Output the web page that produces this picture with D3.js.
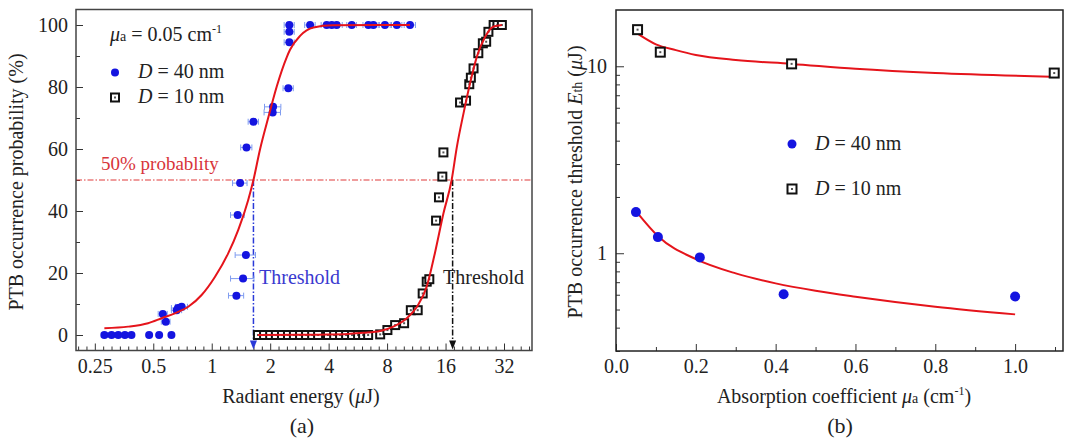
<!DOCTYPE html>
<html><head><meta charset="utf-8">
<script src="https://cdn.jsdelivr.net/npm/d3@7"></script>
<style>
html,body{margin:0;padding:0;background:#fff;}
svg text{font-family:"Liberation Serif","Times New Roman",serif;}
</style></head>
<body>
<svg id="c" width="1065" height="439"></svg>
<script>
// ---------- Panel (a) data ----------
const d40Energy = [0.28,0.305,0.33,0.357,0.386,0.476,0.536,0.62,
  0.56,0.58,0.66,0.67,0.70,
  1.34,1.36,1.40,1.45,1.50,1.51,1.64,
  2.06,2.07,2.48,2.51,2.51,2.51,
  3.21,3.91,4.15,4.40,5.26,6.41,6.80,7.80,8.98,10.5];
const d40Prob = [0,0,0,0,0,0,0,0,
  6.8,4.3,8.0,8.7,9.1,
  12.7,38.7,49.0,18.2,25.8,60.5,68.8,
  71.8,73.6,79.6,100,97.8,94.4,
  100,100,100,100,100,100,100,100,100,100];
const d40Err = [0.01,0.01,0.01,0.01,0.01,0.01,0.01,0.01,
  0.03,0.03,0.04,0.05,0.05,
  0.12,0.11,0.12,0.20,0.18,0.10,0.10,
  0.20,0.20,0.15,0.15,0.15,0.15,
  0.20,0.25,0.25,0.30,0.30,0.40,0.40,0.50,0.55,0.70];

const d10Energy = [1.73,1.86,2.0,2.14,2.30,2.47,2.65,2.85,3.06,3.29,3.53,3.97,4.27,4.58,4.92,5.28,5.67,6.02,6.39,7.37,
  8.03,8.8,9.79,10.6,11.5,12.2,12.8,13.2,14.3,14.8,15.4,15.6,19.0,20.4,21.2,21.6,22.3,23.6,24.9,25.9,26.6,28.3,29.6,31.2];
const d10Prob = [0,0,0,0,0,0,0,0,0,0,0,0,0,0,0,0,0,0,0,0.2,
  1.6,3.2,3.8,8,8,13.4,17.2,18,36.9,44.4,51.1,58.9,75,75.6,80.9,83,86,90.9,94.1,94.6,97.8,100,100,100];

const fit40Energy = [0.28,0.371,0.47,0.552,0.646,0.757,0.887,1.04,1.217,1.37,1.54,1.64,1.77,1.96,2.16,2.43,2.53,2.85,3.34,4.2,10.5];
const fit40Prob   = [2.2,2.7,3.8,5.4,7.0,9.1,12.9,18.8,26.4,33.9,43.5,50,59.7,70.4,80.1,89.5,92.0,96.5,99.2,99.9,100];
const fit10Energy = [1.73,3.0,4.0,5.0,6.04,7.37,8.62,10.1,11.4,12.8,14.1,15.6,17.2,18.3,19.8,21.4,23.2,25.6,28.3,31.2];
const fit10Prob   = [0,0.05,0.15,0.35,0.7,1.3,2.7,5.4,9.1,15.6,26.4,39.2,50,60.7,71.5,81.2,89.8,96.2,99.5,100];

const threshold40 = 1.64, threshold10 = 17.4, halfProb = 50;
const xTicksA = [0.25,0.5,1,2,4,8,16,32];
const xTickLabelsA = ["0.25","0.5","1","2","4","8","16","32"];
const yTicksA = [0,20,40,60,80,100];

// ---------- Panel (b) data ----------
const mu40 = [0.05,0.105,0.21,0.42,1.0];
const eth40 = [1.66,1.22,0.95,0.604,0.587];
const mu10 = [0.054,0.111,0.44,1.098];
const eth10 = [15.7,11.9,10.3,9.2];
const fitMu40 = [0.054,0.106,0.2,0.3,0.4,0.5,0.6,0.8,1.0];
const fitEth40 = [1.64,1.23,0.93,0.78,0.69,0.63,0.586,0.518,0.471];
const fitMu10 = [0.055,0.1,0.15,0.2,0.3,0.44,0.6,0.8,1.09];
const fitEth10 = [14.9,13.1,12.2,11.5,10.8,10.3,9.7,9.2,8.8];
const xTicksB = [0,0.2,0.4,0.6,0.8,1.0];
const xMinorB = [0.1,0.3,0.5,0.7,0.9,1.1];
const yTicksB = [1,10];
const yMinorB = [0.3,0.4,0.5,0.6,0.7,0.8,0.9,2,3,4,5,6,7,8,9];

// ---------- drawing ----------
const svg = d3.select("#c");
svg.append("rect").attr("width",1065).attr("height",439).attr("fill","#fff");
const RED = "#e5141b", BLUE = "#1414e0", EBLUE = "#7f9cf0";
const FS = 20;

function squareMark(g, x, y, s){
  g.append("rect").attr("x",x-s/2).attr("y",y-s/2).attr("width",s).attr("height",s)
    .attr("fill","#fff").attr("stroke","#111").attr("stroke-width",2);
  g.append("rect").attr("x",x-1).attr("y",y-1).attr("width",2).attr("height",2).attr("fill","#555");
}

// ===== Panel (a) =====
const A = {l:76, r:532, t:9.5, b:350.5};
const xA = d3.scaleLog().base(2).domain([0.2,44.6]).range([A.l,A.r]);
const yA = d3.scaleLinear().domain([-5,105]).range([A.b,A.t]);
const gA = svg.append("g");

const minorXA = [];
for(let k=-2;k<=52;k++){ if(k%7!==0){ const v=0.25*Math.pow(2,k/7); if(v>0.2&&v<44.6) minorXA.push(v);} }
gA.append("g").attr("transform",`translate(0,${A.b})`)
  .call(d3.axisBottom(xA).tickValues(minorXA).tickSize(-4).tickFormat(""))
  .call(g=>g.select(".domain").remove());
gA.append("g").attr("transform",`translate(0,${A.b})`)
  .call(d3.axisBottom(xA).tickValues(xTicksA).tickSize(-7).tickPadding(8)
    .tickFormat((d,i)=>xTickLabelsA[i]))
  .call(g=>g.select(".domain").remove())
  .call(g=>g.selectAll("text").attr("font-size",FS).attr("fill","#222").attr("dy","0.72em"));
gA.append("g").attr("transform",`translate(${A.l},0)`)
  .call(d3.axisLeft(yA).tickValues([10,30,50,70,90]).tickSize(-4).tickFormat(""))
  .call(g=>g.select(".domain").remove());
gA.append("g").attr("transform",`translate(${A.l},0)`)
  .call(d3.axisLeft(yA).tickValues(yTicksA).tickSize(-7).tickPadding(8))
  .call(g=>g.select(".domain").remove())
  .call(g=>g.selectAll("text").attr("font-size",FS).attr("fill","#222"));
gA.selectAll(".tick line").attr("stroke","#333");

gA.append("line").attr("x1",A.l).attr("x2",A.r).attr("y1",yA(halfProb)).attr("y2",yA(halfProb))
  .attr("stroke","#e03a3a").attr("stroke-width",1.2).attr("stroke-dasharray","6,2,1.5,2");
function thr(x,color){
  gA.append("line").attr("x1",x).attr("x2",x).attr("y1",yA(halfProb)).attr("y2",A.b-8)
    .attr("stroke",color).attr("stroke-width",1.5).attr("stroke-dasharray","6,2,1.5,2");
  gA.append("path").attr("d",`M${x-3.5},${A.b-10}L${x+3.5},${A.b-10}L${x},${A.b-1}Z`).attr("fill",color);
}
thr(xA(threshold40),"#2a3ad8");
thr(xA(threshold10),"#111");

const gS = gA.append("g");
d10Energy.forEach((e,i)=>squareMark(gS,xA(e),yA(d10Prob[i]),8));

const gE = gA.append("g").attr("stroke",EBLUE).attr("stroke-width",1);
d40Energy.forEach((e,i)=>{
  const y=yA(d40Prob[i]), x1=xA(e-d40Err[i]), x2=xA(e+d40Err[i]);
  gE.append("line").attr("x1",x1).attr("x2",x2).attr("y1",y).attr("y2",y);
  gE.append("line").attr("x1",x1).attr("x2",x1).attr("y1",y-3).attr("y2",y+3);
  gE.append("line").attr("x1",x2).attr("x2",x2).attr("y1",y-3).attr("y2",y+3);
});
gA.append("g").selectAll("circle").data(d40Energy).join("circle")
  .attr("cx",d=>xA(d)).attr("cy",(d,i)=>yA(d40Prob[i])).attr("r",4).attr("fill",BLUE);

const lineA = d3.line().x(d=>xA(d[0])).y(d=>yA(d[1])).curve(d3.curveMonotoneX);
gA.append("path").attr("d",lineA(fit40Energy.map((e,i)=>[e,fit40Prob[i]])))
  .attr("fill","none").attr("stroke",RED).attr("stroke-width",2);
gA.append("path").attr("d",lineA(fit10Energy.map((e,i)=>[e,fit10Prob[i]])))
  .attr("fill","none").attr("stroke",RED).attr("stroke-width",2);

gA.append("rect").attr("x",A.l).attr("y",A.t).attr("width",A.r-A.l).attr("height",A.b-A.t)
  .attr("fill","none").attr("stroke","#444").attr("stroke-width",1.5);

const tA = gA.append("g").attr("font-size",20).attr("fill","#222");
const leg1 = tA.append("text").attr("x",110).attr("y",41);
leg1.append("tspan").attr("font-style","italic").text("μ");
leg1.append("tspan").attr("font-size",14).text("a");
leg1.append("tspan").text(" = 0.05 cm");
leg1.append("tspan").attr("font-size",12).attr("dy",-8).text("-1");
gA.append("circle").attr("cx",115).attr("cy",72.5).attr("r",4).attr("fill",BLUE);
const l2 = tA.append("text").attr("x",138).attr("y",78);
l2.append("tspan").attr("font-style","italic").text("D");
l2.append("tspan").text(" = 40 nm");
squareMark(gA,115,97.5,8);
const l3 = tA.append("text").attr("x",138).attr("y",103);
l3.append("tspan").attr("font-style","italic").text("D");
l3.append("tspan").text(" = 10 nm");
gA.append("text").attr("x",101).attr("y",170).attr("font-size",19).attr("fill","#d8343a").text("50% probablity");
gA.append("text").attr("x",259).attr("y",284).attr("font-size",20).attr("fill","#3a3ad0").text("Threshold");
gA.append("text").attr("x",443).attr("y",284).attr("font-size",20).attr("fill","#222").text("Threshold");
const xtA = gA.append("text").attr("x",301).attr("y",403).attr("text-anchor","middle").attr("font-size",FS).attr("fill","#222");
xtA.append("tspan").text("Radiant energy (");
xtA.append("tspan").attr("font-style","italic").text("μ");
xtA.append("tspan").text("J)");
gA.append("text").attr("x",302).attr("y",433).attr("text-anchor","middle").attr("font-size",22).attr("fill","#222").text("(a)");
gA.append("text").attr("transform","translate(23,182) rotate(-90)").attr("text-anchor","middle")
  .attr("font-size",FS).attr("fill","#222").text("PTB occurrence probability (%)");

// ===== Panel (b) =====
const B = {l:616, r:1063, t:10, b:351};
const xB = d3.scaleLinear().domain([0,1.12]).range([B.l,B.r]);
const yB = d3.scaleLog().domain([0.3,20]).range([B.b,B.t]);
const gB = svg.append("g");
gB.append("g").attr("transform",`translate(0,${B.b})`)
  .call(d3.axisBottom(xB).tickValues(xMinorB).tickSize(-4).tickFormat(""))
  .call(g=>g.select(".domain").remove());
gB.append("g").attr("transform",`translate(0,${B.b})`)
  .call(d3.axisBottom(xB).tickValues(xTicksB).tickSize(-7).tickPadding(8).tickFormat(d3.format(".1f")))
  .call(g=>g.select(".domain").remove())
  .call(g=>g.selectAll("text").attr("font-size",FS).attr("fill","#222").attr("dy","0.72em"));
gB.append("g").attr("transform",`translate(${B.l},0)`)
  .call(d3.axisLeft(yB).tickValues(yMinorB).tickSize(-4).tickFormat(""))
  .call(g=>g.select(".domain").remove());
gB.append("g").attr("transform",`translate(${B.l},0)`)
  .call(d3.axisLeft(yB).tickValues(yTicksB).tickSize(-8).tickPadding(9).tickFormat(d3.format("d")))
  .call(g=>g.select(".domain").remove())
  .call(g=>g.selectAll("text").attr("font-size",FS).attr("fill","#222"));
gB.selectAll(".tick line").attr("stroke","#333");

const lineB = d3.line().x(d=>xB(d[0])).y(d=>yB(d[1])).curve(d3.curveMonotoneX);
gB.append("path").attr("d",lineB(fitMu10.map((m,i)=>[m,fitEth10[i]])))
  .attr("fill","none").attr("stroke",RED).attr("stroke-width",2);
gB.append("path").attr("d",lineB(fitMu40.map((m,i)=>[m,fitEth40[i]])))
  .attr("fill","none").attr("stroke",RED).attr("stroke-width",2);
mu10.forEach((m,i)=>squareMark(gB,xB(m),yB(eth10[i]),9));
gB.append("g").selectAll("circle").data(mu40).join("circle")
  .attr("cx",d=>xB(d)).attr("cy",(d,i)=>yB(eth40[i])).attr("r",5).attr("fill",BLUE);

gB.append("rect").attr("x",B.l).attr("y",B.t).attr("width",B.r-B.l).attr("height",B.b-B.t)
  .attr("fill","none").attr("stroke","#222").attr("stroke-width",1.5);

gB.append("circle").attr("cx",792).attr("cy",144).attr("r",4.5).attr("fill",BLUE);
const lb1 = gB.append("text").attr("x",815).attr("y",150).attr("font-size",20).attr("fill","#222");
lb1.append("tspan").attr("font-style","italic").text("D");
lb1.append("tspan").text(" = 40 nm");
squareMark(gB,792,189,9);
const lb2 = gB.append("text").attr("x",815).attr("y",195).attr("font-size",20).attr("fill","#222");
lb2.append("tspan").attr("font-style","italic").text("D");
lb2.append("tspan").text(" = 10 nm");

const xtB = gB.append("text").attr("x",844).attr("y",403).attr("text-anchor","middle").attr("font-size",FS).attr("fill","#222");
xtB.append("tspan").text("Absorption coefficient ");
xtB.append("tspan").attr("font-style","italic").text("μ");
xtB.append("tspan").attr("font-size",14).text("a");
xtB.append("tspan").text(" (cm");
xtB.append("tspan").attr("font-size",12).attr("dy",-8).text("-1");
xtB.append("tspan").attr("dy",8).text(")");
gB.append("text").attr("x",840).attr("y",433).attr("text-anchor","middle").attr("font-size",22).attr("fill","#222").text("(b)");
const ytB = gB.append("text").attr("transform","translate(582,182) rotate(-90)").attr("text-anchor","middle")
  .attr("font-size",FS).attr("fill","#222");
ytB.append("tspan").text("PTB occurrence threshold ");
ytB.append("tspan").attr("font-style","italic").text("E");
ytB.append("tspan").attr("font-size",14).text("th");
ytB.append("tspan").text(" (");
ytB.append("tspan").attr("font-style","italic").text("μ");
ytB.append("tspan").text("J)");
</script>
</body></html>
